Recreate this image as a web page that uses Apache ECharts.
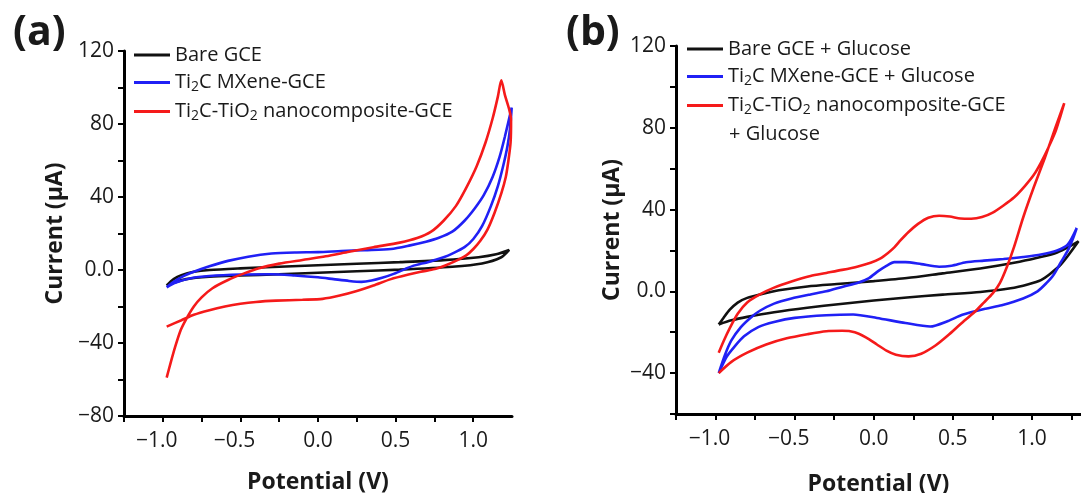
<!DOCTYPE html>
<html>
<head>
<meta charset="utf-8">
<script src="https://cdn.jsdelivr.net/npm/echarts@6/dist/echarts.min.js"></script>
<style>
  html, body { margin: 0; padding: 0; background: #fff; }
  #main { width: 1081px; height: 493px; }
</style>
</head>
<body>
<div id="main"></div>
<script>
// ---- data: [potential (V), current (uA)] ----
// panel (a)
const bareA = [
  [-0.975,-8.5],[-0.93,-5],[-0.88,-2.8],[-0.8,-1],[-0.7,0],[-0.5,0.9],[-0.25,1.8],[0,2.6],[0.25,3.4],
  [0.526,4.3],[0.809,5.4],[1.035,7],[1.148,8.6],[1.232,11],
  [1.181,7],[1.057,3.6],[0.865,1.8],[0.526,0.2],[0.25,-0.7],[0,-1.5],[-0.25,-2.3],[-0.5,-3],[-0.7,-3.7],
  [-0.85,-5],[-0.93,-7],[-0.975,-8.5]
];
const mxeneA = [
  [-0.975,-9.5],[-0.93,-6.5],[-0.87,-3.5],[-0.8,-1],[-0.7,2],[-0.58,5],[-0.45,7.3],[-0.3,9],[-0.15,9.6],
  [0,9.8],[0.15,10.4],[0.3,10.9],[0.47,11.5],[0.594,13.5],[0.696,15.5],[0.775,17.5],[0.865,21],[0.944,27],
  [1.012,34],[1.068,41],[1.125,51],[1.17,62],[1.204,73],[1.248,89],
  [1.238,78],[1.221,68],[1.193,57],[1.159,46],[1.114,35],[1.057,24],[1.001,17],[0.944,12.5],[0.865,9],
  [0.809,7],[0.752,5.5],[0.707,4.3],[0.662,3.4],[0.616,2.4],[0.56,0.5],[0.492,-2],[0.413,-4.3],[0.345,-5.8],
  [0.28,-6.5],[0.2,-6],[0.1,-5],[0,-4],[-0.15,-3],[-0.3,-2.3],[-0.5,-2.5],[-0.7,-3.3],[-0.82,-4.5],
  [-0.92,-7],[-0.975,-9.5]
];
const compositeA = [
  [-0.975,-59],[-0.95,-51],[-0.92,-42],[-0.885,-33],[-0.85,-27],[-0.8,-20],[-0.75,-15],[-0.68,-10],
  [-0.58,-5.5],[-0.48,-2],[-0.38,1],[-0.25,3.5],[-0.1,5.5],[0.05,7.5],[0.2,10],[0.357,12.5],[0.526,15],
  [0.639,17.5],[0.729,21],[0.809,27],[0.888,35],[0.955,45],[1.023,57],[1.08,70],[1.125,83],[1.159,95],
  [1.181,104],[1.204,96],[1.232,88],[1.244,82],
  [1.241,70],[1.227,60],[1.21,51],[1.181,42],[1.136,31],[1.091,22],[1.046,16],[1.001,11.5],[0.955,8],
  [0.888,5],[0.82,2.5],[0.752,0.5],[0.662,-1],[0.583,-2.5],[0.47,-5],[0.357,-8.5],[0.25,-11.5],[0.14,-14],
  [0.03,-15.8],[-0.1,-16.3],[-0.27,-16.8],[-0.4,-17.5],[-0.5,-18.5],[-0.6,-20],[-0.7,-22],[-0.8,-24.5],
  [-0.88,-27.5],[-0.975,-31]
];
// panel (b)
const bareB = [
  [-0.98,-16.2],[-0.95,-13],[-0.91,-9],[-0.86,-5.5],[-0.8,-3.2],[-0.7,-1.2],[-0.6,0.5],[-0.42,2.4],
  [-0.21,3.7],[0,5],[0.21,6.5],[0.436,8.8],[0.673,11.2],[0.922,14.5],[1.068,17],[1.159,19],[1.227,21.5],
  [1.294,24.5],
  [1.238,18.5],[1.181,13],[1.114,8.5],[1.057,5.5],[0.978,3.5],[0.865,1.5],[0.673,-0.3],[0.436,-1.6],
  [0.21,-3],[0,-4.5],[-0.21,-6.2],[-0.42,-8],[-0.63,-10.2],[-0.8,-12.5],[-0.9,-14.2],[-0.98,-16.2]
];
const mxeneB = [
  [-0.98,-40],[-0.94,-31],[-0.9,-24],[-0.84,-17.5],[-0.78,-13],[-0.72,-9.5],[-0.63,-6],[-0.52,-3.5],
  [-0.4,-1.5],[-0.3,0],[-0.19,2.4],[-0.1,4.2],[-0.03,6.5],[0.03,10],[0.08,12.5],[0.13,14.3],[0.2,14.3],
  [0.3,13.3],[0.413,12],[0.492,12.5],[0.583,14.2],[0.696,15],[0.82,15.8],[0.944,16.8],[1.057,18],
  [1.159,20],[1.227,23],[1.283,31],
  [1.26,26],[1.227,20],[1.181,14],[1.136,8],[1.091,4],[1.035,0],[0.944,-3.5],[0.809,-6.8],[0.707,-8.5],
  [0.56,-11.5],[0.47,-14.5],[0.357,-17.2],[0.2,-15.5],[0.02,-13],[-0.13,-11.3],[-0.3,-11.7],[-0.5,-13],
  [-0.63,-15],[-0.73,-17.5],[-0.82,-22],[-0.88,-27],[-0.93,-32],[-0.98,-40]
];
const compositeB = [
  [-0.98,-30],[-0.95,-24.5],[-0.91,-18],[-0.86,-11],[-0.8,-5.5],[-0.72,-1.5],[-0.63,1.8],[-0.52,4.8],
  [-0.4,7.5],[-0.3,9],[-0.2,10.5],[-0.1,12.2],[-0.02,14],[0.04,16],[0.09,18.8],[0.13,21.5],[0.17,25],
  [0.22,29],[0.28,33],[0.345,36],[0.413,37],[0.481,36.6],[0.549,35.6],[0.616,35.5],[0.684,36.3],
  [0.752,38.5],[0.82,42],[0.888,46],[0.955,51.5],[1.012,57],[1.057,63],[1.102,70],[1.148,78],[1.181,86],
  [1.204,92],
  [1.148,80],[1.08,65],[1.012,51],[0.944,36],[0.888,22],[0.842,12],[0.797,4],[0.752,-1],[0.696,-5.5],
  [0.639,-10],[0.549,-16],[0.47,-21.5],[0.39,-26.5],[0.3,-30.5],[0.22,-31.8],[0.14,-31],[0.08,-29],
  [0.02,-26],[-0.05,-22.5],[-0.12,-20],[-0.2,-19.3],[-0.3,-19.5],[-0.42,-21],[-0.55,-23],[-0.68,-26],
  [-0.8,-30],[-0.9,-34.5],[-0.98,-40]
];

const namesA = ['Bare GCE', 'Ti2C MXene-GCE', 'Ti2C-TiO2 nanocomposite-GCE'];
const namesB = ['Bare GCE + Glucose', 'Ti2C MXene-GCE + Glucose', 'Ti2C-TiO2 nanocomposite-GCE + Glucose'];
const colors = ['#111111', '#2020f5', '#f51a1a'];

const FONT = '"Open Sans", "Noto Sans", sans-serif';
const TXT = '#1a1a1a';

// numbers after letters become subscripts
function richName(name) {
  if (name === namesB[2]) name = 'Ti2C-TiO2 nanocomposite-GCE';
  return name.split(/(\d)/).filter(s => s !== '').map(s =>
    /^\d$/.test(s) ? '{s|' + s + '}' : '{t|' + s + '}'
  ).join('');
}

function xLabel(v) {
  if (Math.abs(v * 2 - Math.round(v * 2)) > 1e-6) return '';
  if (Math.abs(v) < 1e-9) return '0.0';
  if (v < 0) return '{n|−' + Math.abs(v).toFixed(1) + '}';
  return v.toFixed(1);
}
function yLabel(v) {
  if (v % 40 !== 0) return '';
  if (v === 0) return '0.0';
  return (v < 0 ? '−' : '') + Math.abs(v);
}

function xAxis(idx, max, gap) {
  return {
    type: 'value', gridIndex: idx, min: -1.25, max: max, interval: 0.25,
    name: 'Potential (V)', nameLocation: 'middle', nameGap: gap,
    nameTextStyle: { fontFamily: FONT, fontSize: 23, fontWeight: 'bold', color: TXT },
    axisLine: { onZero: false, lineStyle: { color: '#000', width: 3 } },
    axisTick: { length: 6, lineStyle: { color: '#000', width: 2 } },
    axisLabel: {
      formatter: xLabel, fontFamily: FONT, fontSize: 21, color: TXT, margin: 15,
      showMaxLabel: false,
      rich: { n: { fontFamily: FONT, fontSize: 21, color: TXT, padding: [0, 12, 0, 0] } }
    },
    splitLine: { show: false }
  };
}
function yAxis(idx, min, gap) {
  return {
    type: 'value', gridIndex: idx, min: min, max: 120, interval: 20,
    name: 'Current (μA)', nameLocation: 'middle', nameGap: gap,
    nameTextStyle: { fontFamily: FONT, fontSize: 23, fontWeight: 'bold', color: TXT },
    axisLine: { onZero: false, lineStyle: { color: '#000', width: 3 } },
    axisTick: { length: 6, lineStyle: { color: '#000', width: 2 } },
    axisLabel: { formatter: yLabel, fontFamily: FONT, fontSize: 21, color: TXT, margin: 10 },
    splitLine: { show: false }
  };
}
function legend(names, left, top) {
  return {
    data: names, orient: 'vertical', left: left, top: top,
    icon: 'rect', itemWidth: 36, itemHeight: 3, itemGap: 6,
    formatter: richName,
    textStyle: {
      fontFamily: FONT, fontSize: 20, color: TXT,
      rich: {
        t: { fontFamily: FONT, fontSize: 20, color: TXT, lineHeight: 24 },
        s: { fontFamily: FONT, fontSize: 14, color: TXT, lineHeight: 14, padding: [9, 0, 0, 0] }
      }
    }
  };
}
function line(name, data, ci, idx) {
  return {
    name: name, type: 'line', data: data, xAxisIndex: idx, yAxisIndex: idx,
    symbol: 'none', smooth: 0.25,
    lineStyle: { color: colors[ci], width: 2.6 },
    itemStyle: { color: colors[ci] }
  };
}

const chart = echarts.init(document.getElementById('main'));
chart.setOption({
  animation: false,
  backgroundColor: '#fff',
  title: [
    { text: '(a)', left: 8, top: 8, textStyle: { fontFamily: FONT, fontSize: 41, fontWeight: 'bold', color: TXT } },
    { text: '(b)', left: 561, top: 8, textStyle: { fontFamily: FONT, fontSize: 41, fontWeight: 'bold', color: TXT } }
  ],
  grid: [
    { left: 124, top: 51, width: 388, height: 365, outerBoundsMode: 'none', containLabel: false },
    { left: 676, top: 46, width: 405, height: 368, outerBoundsMode: 'none', containLabel: false }
  ],
  xAxis: [xAxis(0, 1.25, 55), xAxis(1, 1.31, 59)],
  yAxis: [yAxis(0, -80, 57), yAxis(1, -60, 52)],
  legend: [legend(namesA, 129, 40), legend(namesB, 682, 34)],
  graphic: [
    { type: 'text', x: 729, y: 134,
      style: { text: '+ Glucose', fontFamily: FONT, fontSize: 20, fill: TXT, verticalAlign: 'middle' } }
  ],
  series: [
    line(namesA[0], bareA, 0, 0),
    line(namesA[1], mxeneA, 1, 0),
    line(namesA[2], compositeA, 2, 0),
    line(namesB[0], bareB, 0, 1),
    line(namesB[1], mxeneB, 1, 1),
    line(namesB[2], compositeB, 2, 1)
  ]
});
</script>
</body>
</html>
